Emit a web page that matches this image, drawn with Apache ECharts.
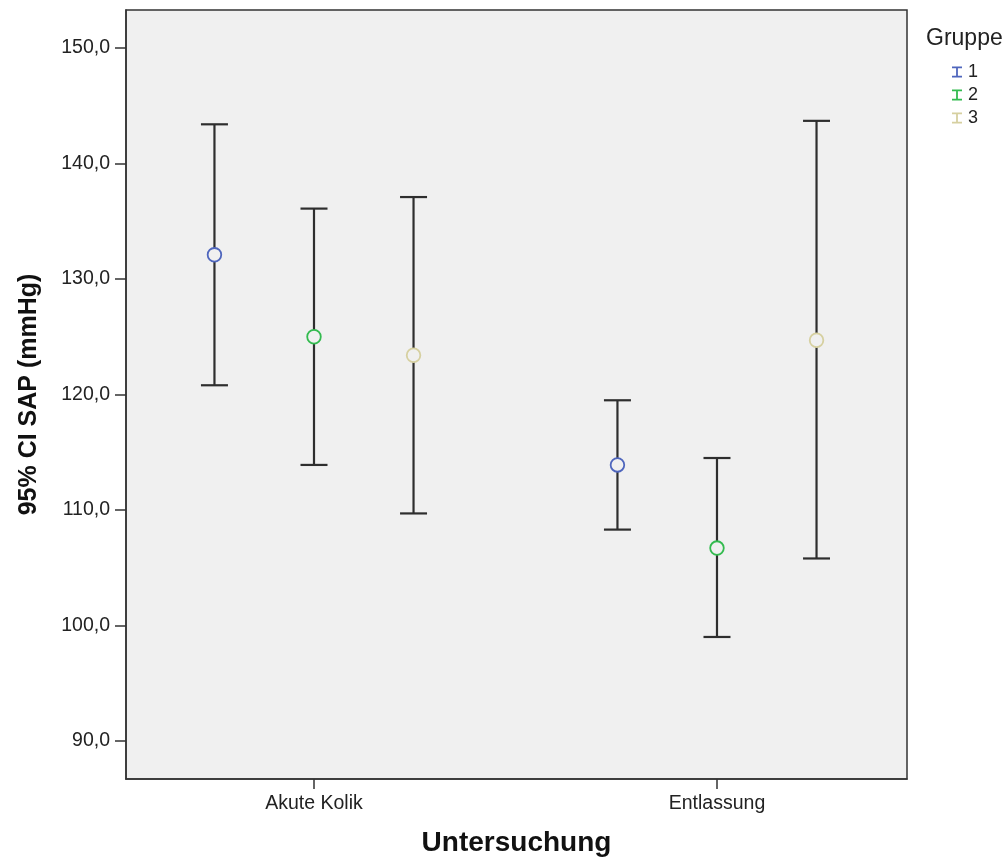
<!DOCTYPE html>
<html>
<head>
<meta charset="utf-8">
<script src="https://cdn.jsdelivr.net/npm/echarts@6/dist/echarts.min.js"></script>
<style>html,body{margin:0;padding:0;background:#fff;}#c{width:1006px;height:858px;}</style>
</head>
<body>
<div id="c"></div>
<script>
const categories = ['Akute Kolik', 'Entlassung'];
const groups = ['1', '2', '3'];
const groupColors = ['#4f66bd', '#33bb4f', '#d6d0a0'];
const means = [[132.1, 113.9], [125.0, 106.7], [123.4, 124.7]];
const lower = [[120.8, 108.3], [113.9, 99.0], [109.7, 105.8]];
const upper = [[143.4, 119.5], [136.1, 114.5], [137.1, 143.7]];
const yTicks = [90, 100, 110, 120, 130, 140, 150];

const groupOffset = [-0.247, 0, 0.247];
const font = 'Liberation Sans, Arial, sans-serif';

const chart = echarts.init(document.getElementById('c'), null, {renderer: 'canvas'});

const series = groups.map((g, gi) => ({
  name: g,
  type: 'custom',
  itemStyle: {color: groupColors[gi]},
  data: categories.map((c, ci) => [ci + groupOffset[gi], lower[gi][ci], upper[gi][ci], means[gi][ci]]),
  renderItem: function (params, api) {
    const x = api.value(0);
    const lo = api.coord([x, api.value(1)]);
    const hi = api.coord([x, api.value(2)]);
    const m = api.coord([x, api.value(3)]);
    const cap = 13.5;
    const ls = {stroke: '#2e2e2e', lineWidth: 2.2};
    return {
      type: 'group',
      children: [
        {type: 'line', shape: {x1: lo[0], y1: lo[1], x2: hi[0], y2: hi[1]}, style: ls},
        {type: 'line', shape: {x1: lo[0] - cap, y1: lo[1], x2: lo[0] + cap, y2: lo[1]}, style: ls},
        {type: 'line', shape: {x1: hi[0] - cap, y1: hi[1], x2: hi[0] + cap, y2: hi[1]}, style: ls},
        {type: 'circle', shape: {cx: m[0], cy: m[1], r: 6.8}, style: {fill: '#f0f0f0', stroke: groupColors[gi], lineWidth: 1.8}}
      ]
    };
  }
}));

chart.setOption({
  animation: false,
  backgroundColor: '#ffffff',
  title: {
    text: 'Gruppe', left: 921, top: 22,
    textStyle: {fontFamily: font, fontSize: 23, fontWeight: 'normal', color: '#222'}
  },
  legend: {
    orient: 'vertical', left: 947, top: 58,
    itemWidth: 10, itemHeight: 11, itemGap: 5,
    icon: 'path://M0,0L10,0L10,1.8L5.9,1.8L5.9,9.2L10,9.2L10,11L0,11L0,9.2L4.1,9.2L4.1,1.8L0,1.8Z',
    data: groups,
    textStyle: {fontFamily: font, fontSize: 18, lineHeight: 18, color: '#222', padding: [0, 0, 0, 1]}
  },
  grid: {
    left: 126, top: 10, right: 99, bottom: 79,
    outerBoundsMode: 'none', containLabel: false,
    show: true, backgroundColor: '#f0f0f0', borderColor: '#333', borderWidth: 1.5
  },
  xAxis: {
    type: 'value', min: -0.4665, max: 1.4715,
    name: 'Untersuchung', nameLocation: 'middle', nameGap: 50,
    nameTextStyle: {fontFamily: font, fontSize: 28, fontWeight: 'bold', color: '#111'},
    axisLine: {show: true, onZero: false, lineStyle: {color: '#333', width: 1.5}},
    axisTick: {show: true, length: 10, lineStyle: {color: '#333', width: 1.5}, customValues: [0, 1]},
    axisLabel: {
      customValues: [0, 1], margin: 15,
      fontFamily: font, fontSize: 19.5, color: '#222',
      formatter: v => categories[Math.round(v)] || ''
    },
    splitLine: {show: false}
  },
  yAxis: {
    type: 'value', min: 86.7, max: 153.3,
    name: '95% CI SAP (mmHg)', nameLocation: 'middle', nameGap: 84, nameRotate: 90,
    nameTextStyle: {fontFamily: font, fontSize: 25, fontWeight: 'bold', color: '#111'},
    axisLine: {show: true, onZero: false, lineStyle: {color: '#333', width: 1.5}},
    axisTick: {show: true, length: 11, lineStyle: {color: '#333', width: 1.5}, customValues: yTicks},
    axisLabel: {
      customValues: yTicks, margin: 16,
      fontFamily: font, fontSize: 19.5, color: '#222',
      formatter: v => v.toFixed(1).replace('.', ',')
    },
    splitLine: {show: false}
  },
  series: series
});
</script>
</body>
</html>
